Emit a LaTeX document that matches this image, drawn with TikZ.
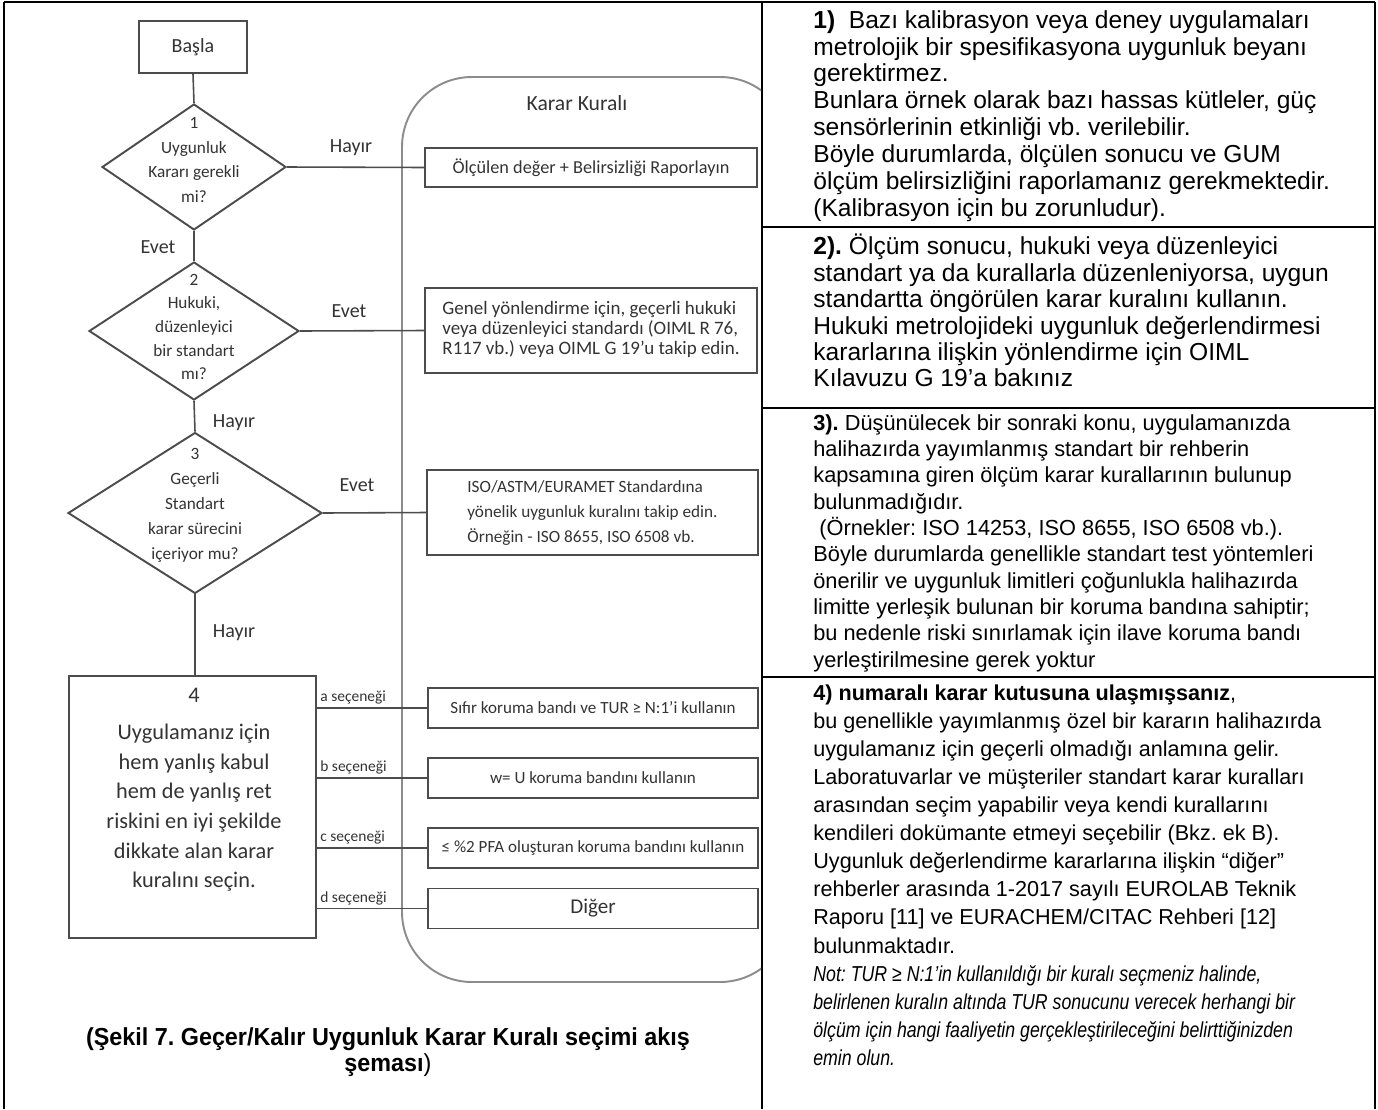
\documentclass[tikz,border=0pt]{standalone}
\usepackage{fontspec}
\setmainfont{Liberation Sans}
\newfontfamily\flowfont{Carlito}
\newfontfamily\narrowfont[FakeStretch=0.82]{Liberation Sans}
\newfontfamily\capfont[FakeStretch=0.95]{Liberation Sans}
\usetikzlibrary{shapes.geometric}
\frenchspacing

\begin{document}
\begin{tikzpicture}[x=0.02cm, y=-0.02cm,
    flow/.style={draw=black!70, line width=0.9pt},
    box/.style={draw=black!70, line width=1.1pt, inner sep=0pt, align=center,
      text=black!80, font=\flowfont\fontsize{9.7}{12}\selectfont},
    decision/.style={diamond, draw=black!70, line width=1.1pt, inner sep=0pt},
    dtext/.style={align=center, inner sep=0pt, text=black!80,
      font=\flowfont\fontsize{9.8}{14.2}\selectfont},
    lbl/.style={text=black!80, font=\flowfont\fontsize{11.4}{13}\selectfont},
    optlbl/.style={anchor=south west, inner sep=1.5pt, text=black!80,
      font=\flowfont\fontsize{8.8}{10}\selectfont},
    rule/.style={draw=black, line width=1.2pt},
    entry/.style={anchor=north west, align=left, inner sep=0pt}
  ]
  \useasboundingbox (0,0) rectangle (1378,1109);

  % table around the figure and the notes
  \draw[rule] (4,2) -- (1375,2) (4,2) -- (4,1109) (1375,2) -- (1375,1109)
    (762,2) -- (762,1109)
    (762,227) -- (1375,227)
    (762,408) -- (1375,408)
    (762,677) -- (1375,677);

  % decision rule container, cut at the column line
  \begin{scope}
    \clip (4,2) rectangle (761,1109);
    \draw[draw=black!45, line width=1.1pt, rounded corners=1.4cm]
      (402,77) rectangle (790,982);
  \end{scope}
  \node[lbl, font=\flowfont\fontsize{12.3}{14}\selectfont] (kk) at (577,103) {Karar Kuralı};

  % flow chart
  \node[box, minimum width=2.16cm, minimum height=1.04cm,
    font=\flowfont\fontsize{11.4}{13}\selectfont] (start) at (193,47) {Başla};

  \node[decision, minimum width=3.68cm, minimum height=2.52cm] (d1) at (194,167) {};
  \node[dtext] (d1t) at (194,160) {1\\Uygunluk\\Kararı gerekli\\mi?};

  \node[decision, minimum width=4.2cm, minimum height=2.76cm] (d2) at (194,331) {};
  \node[dtext, font=\flowfont\fontsize{9.8}{13.4}\selectfont] (d2t) at (194,327)
    {2\\Hukuki,\\düzenleyici\\bir standart\\mı?};

  \node[decision, minimum width=5.08cm, minimum height=3.22cm] (d3) at (195,513) {};
  \node[dtext] (d3t) at (195,505) {3\\Geçerli\\Standart\\karar sürecini\\içeriyor mu?};

  \node[box, minimum width=4.94cm, minimum height=5.24cm] (b4) at (192.5,807) {};
  \node[dtext, font=\flowfont\fontsize{12.7}{16.9}\selectfont] (b4t) at (194,790)
    {4\\[4pt]Uygulamanız için\\hem yanlış kabul\\hem de yanlış ret\\riskini en iyi şekilde\\dikkate alan karar\\kuralını seçin.};

  \node[box, minimum width=6.64cm, minimum height=0.78cm,
    font=\flowfont\fontsize{10.4}{12}\selectfont] (r1) at (591,167.5)
    {Ölçülen değer + Belirsizliği Raporlayın};
  \node[box, minimum width=6.64cm, minimum height=1.7cm,
    font=\flowfont\fontsize{10.8}{11.4}\selectfont] (r2) at (591,330.5)
    {\begin{tabular}{@{}l@{}}Genel yönlendirme için, geçerli hukuki\\veya düzenleyici standardı (OIML R 76,\\R117 vb.) veya OIML G 19’u takip edin.\end{tabular}};
  \node[box, minimum width=6.62cm, minimum height=1.7cm,
    font=\flowfont\fontsize{9.8}{14.2}\selectfont] (r3) at (592.5,512.5)
    {\begin{tabular}{@{}l@{}}ISO/ASTM/EURAMET Standardına\\yönelik uygunluk kuralını takip edin.\\Örneğin - ISO 8655, ISO 6508 vb.\end{tabular}};

  \node[box, minimum width=6.6cm, minimum height=0.8cm] (oa) at (593,708)
    {Sıfır koruma bandı ve TUR ≥ N:1’i kullanın};
  \node[box, minimum width=6.6cm, minimum height=0.8cm] (ob) at (593,778)
    {w= U koruma bandını kullanın};
  \node[box, minimum width=6.6cm, minimum height=0.8cm] (oc) at (593,848)
    {≤ \%2 PFA oluşturan koruma bandını kullanın};
  \node[box, minimum width=6.6cm, minimum height=0.8cm,
    font=\flowfont\fontsize{12}{14}\selectfont] (od) at (593,908.5) {Diğer};

  \draw[flow] (start.south) -- (d1.north);
  \draw[flow] (d1.south) -- (d2.north);
  \draw[flow] (d2.south) -- (d3.north);
  \draw[flow] (d3.south) -- (d3.south |- b4.north);
  \draw[flow] (d1.east) -- (r1.west);
  \draw[flow] (d2.east) -- (r2.west);
  \draw[flow] (d3.east) -- (r3.west);
  \foreach \o/\l in {oa/a, ob/b, oc/c, od/d}
    \draw[flow] (b4.east |- \o.west) -- (\o.west)
      node[optlbl, pos=0] (l\l) {\l\ seçeneği};

  \node[lbl] (h1) at (351,148) {Hayır};
  \node[lbl] (e1) at (158,247) {Evet};
  \node[lbl] (e2) at (349,311) {Evet};
  \node[lbl] (h2) at (234,423) {Hayır};
  \node[lbl] (e3) at (357,485) {Evet};
  \node[lbl] (h3) at (234,633) {Hayır};

  \node[align=center, font=\capfont\bfseries\fontsize{14}{14.6}\selectfont] (cap) at (388,1052)
    {(Şekil 7. Geçer/Kalır Uygunluk Karar Kuralı seçimi akış\\şeması\mdseries)};

  % notes column
  \node[entry, font=\fontsize{14}{15.3}\selectfont] (n1) at (813,10)
    {\textbf{1)}\ \ Bazı kalibrasyon veya deney uygulamaları\\
     metrolojik bir spesifikasyona uygunluk beyanı\\
     gerektirmez.\\
     Bunlara örnek olarak bazı hassas kütleler, güç\\
     sensörlerinin etkinliği vb. verilebilir.\\
     Böyle durumlarda, ölçülen sonucu ve GUM\\
     ölçüm belirsizliğini raporlamanız gerekmektedir.\\
     (Kalibrasyon için bu zorunludur).};
  \node[entry, font=\fontsize{14}{15}\selectfont] (n2) at (813,234)
    {\textbf{2).} Ölçüm sonucu, hukuki veya düzenleyici\\
     standart ya da kurallarla düzenleniyorsa, uygun\\
     standartta öngörülen karar kuralını kullanın.\\
     Hukuki metrolojideki uygunluk değerlendirmesi\\
     kararlarına ilişkin yönlendirme için OIML\\
     Kılavuzu G 19’a bakınız};
  \node[entry, font=\fontsize{12.4}{15}\selectfont] (n3) at (813,414)
    {\textbf{3).} Düşünülecek bir sonraki konu, uygulamanızda\\
     halihazırda yayımlanmış standart bir rehberin\\
     kapsamına giren ölçüm karar kurallarının bulunup\\
     bulunmadığıdır.\\
     \ (Örnekler: ISO 14253, ISO 8655, ISO 6508 vb.).\\
     Böyle durumlarda genellikle standart test yöntemleri\\
     önerilir ve uygunluk limitleri çoğunlukla halihazırda\\
     limitte yerleşik bulunan bir koruma bandına sahiptir;\\
     bu nedenle riski sınırlamak için ilave koruma bandı\\
     yerleştirilmesine gerek yoktur};
  \node[entry, font=\fontsize{12.3}{16}\selectfont] (n4) at (813,684)
    {\textbf{4) numaralı karar kutusuna ulaşmışsanız},\\
     bu genellikle yayımlanmış özel bir kararın halihazırda\\
     uygulamanız için geçerli olmadığı anlamına gelir.\\
     Laboratuvarlar ve müşteriler standart karar kuralları\\
     arasından seçim yapabilir veya kendi kurallarını\\
     kendileri dokümante etmeyi seçebilir (Bkz. ek B).\\
     Uygunluk değerlendirme kararlarına ilişkin “diğer”\\
     rehberler arasında 1-2017 sayılı EUROLAB Teknik\\
     Raporu [11] ve EURACHEM/CITAC Rehberi [12]\\
     bulunmaktadır.\\
     {\narrowfont\itshape Not: TUR ≥ N:1’in kullanıldığı bir kuralı seçmeniz halinde,}\\
     {\narrowfont\itshape belirlenen kuralın altında TUR sonucunu verecek herhangi bir}\\
     {\narrowfont\itshape ölçüm için hangi faaliyetin gerçekleştirileceğini belirttiğinizden}\\
     {\narrowfont\itshape emin olun.}};
\end{tikzpicture}
\end{document}
